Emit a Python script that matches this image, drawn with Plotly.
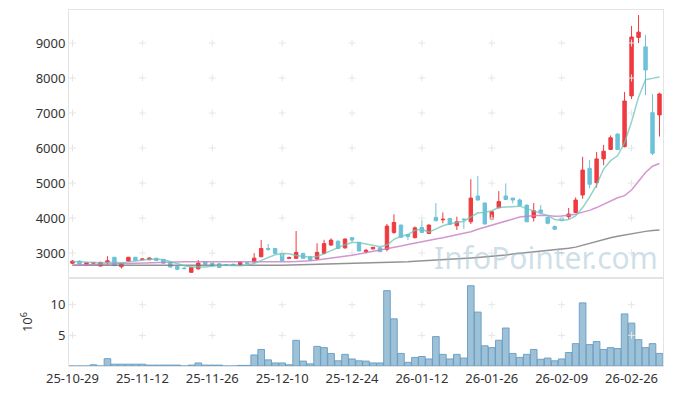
import plotly.graph_objects as go
from plotly.subplots import make_subplots

dates = [
    "25-10-29", "25-10-30", "25-10-31",
    "25-11-03", "25-11-04", "25-11-05", "25-11-06", "25-11-07", "25-11-10", "25-11-11", "25-11-12",
    "25-11-13", "25-11-14", "25-11-17", "25-11-18", "25-11-19", "25-11-20", "25-11-21", "25-11-24",
    "25-11-25", "25-11-26", "25-11-27", "25-11-28",
    "25-12-01", "25-12-02", "25-12-03", "25-12-04", "25-12-05", "25-12-08", "25-12-09", "25-12-10",
    "25-12-11", "25-12-12", "25-12-15", "25-12-16", "25-12-17", "25-12-18", "25-12-19", "25-12-22",
    "25-12-23", "25-12-24", "25-12-26", "25-12-29", "25-12-30",
    "26-01-02", "26-01-05", "26-01-06", "26-01-07", "26-01-08", "26-01-09", "26-01-12", "26-01-13",
    "26-01-14", "26-01-15", "26-01-16", "26-01-19", "26-01-20", "26-01-21", "26-01-22", "26-01-23",
    "26-01-26", "26-01-27", "26-01-28", "26-01-29", "26-01-30",
    "26-02-02", "26-02-03", "26-02-04", "26-02-05", "26-02-06", "26-02-09", "26-02-10", "26-02-11",
    "26-02-12", "26-02-13", "26-02-19", "26-02-20", "26-02-23", "26-02-24", "26-02-25", "26-02-26",
    "26-02-27", "26-03-03", "26-03-04", "26-03-05",
]

open_ = [2710, 2770, 2680, 2710, 2630, 2735, 2880, 2610, 2770, 2880, 2810, 2810, 2850, 2820, 2730,
         2620, 2570, 2450, 2550, 2750, 2715, 2695, 2670, 2680, 2660, 2720, 2745, 2895, 3130, 3130,
         2990, 2850, 2850, 2990, 2895, 2830, 2990, 3230, 3340, 3150, 3440, 3305, 3040, 3120, 3150,
         3105, 3590, 3800, 3530, 3440, 3730, 3560, 4020, 3950, 3990, 3780, 3970, 3895, 4630, 4430,
         3970, 4295, 4630, 4570, 4515, 4370, 4010, 4230, 4020, 3760, 4000, 4040, 4160, 4660, 5420,
         5010, 5690, 5960, 6400, 6040, 7490, 9160, 8890, 7010, 6945]
high = [2800, 2790, 2730, 2750, 2750, 2910, 2880, 2720, 2890, 2890, 2850, 2870, 2870, 2830, 2740,
        2630, 2600, 2600, 2800, 2760, 2720, 2700, 2680, 2700, 2770, 2750, 3000, 3370, 3260, 3140,
        3000, 2900, 3630, 3010, 2910, 3280, 3380, 3420, 3360, 3420, 3460, 3310, 3120, 3180, 3160,
        3830, 4110, 3810, 3550, 3760, 3950, 3820, 4430, 4160, 4000, 4040, 3990, 5110, 5200, 4440,
        4200, 4770, 4990, 4580, 4560, 4380, 4430, 4370, 4040, 3790, 4040, 4290, 4590, 5750, 5660,
        5890, 6090, 6360, 6420, 7600, 9490, 9800, 9230, 7540, 7580]
low = [2680, 2680, 2640, 2700, 2620, 2660, 2640, 2560, 2760, 2780, 2800, 2800, 2780, 2700, 2590,
       2510, 2540, 2440, 2530, 2670, 2630, 2580, 2620, 2630, 2650, 2690, 2730, 2880, 3060, 2980,
       2770, 2830, 2830, 2840, 2790, 2810, 2960, 3200, 3120, 3120, 3290, 3050, 2990, 3100, 3030,
       3050, 3550, 3440, 3370, 3420, 3580, 3540, 3900, 3850, 3810, 3660, 3690, 3830, 4500, 3820,
       3950, 4280, 4520, 4420, 4340, 3880, 3900, 4140, 3820, 3660, 3900, 3970, 4140, 4550, 4850,
       4870, 5510, 5940, 5950, 6020, 7400, 9000, 7510, 5800, 6330]
close = [2770, 2690, 2720, 2730, 2735, 2780, 2640, 2710, 2880, 2790, 2830, 2860, 2790, 2710, 2600,
         2535, 2555, 2590, 2715, 2680, 2640, 2590, 2645, 2655, 2740, 2700, 2855, 3130, 3110, 2990,
         2780, 2870, 3020, 2850, 2800, 3020, 3270, 3370, 3130, 3400, 3370, 3060, 3080, 3160, 3040,
         3770, 3875, 3450, 3470, 3720, 3590, 3800, 3925, 3965, 3820, 3895, 3960, 4570, 4515, 3830,
         4180, 4470, 4530, 4515, 4360, 3895, 4210, 4150, 3850, 3680, 3935, 4115, 4515, 5370, 4965,
         5690, 5910, 6295, 5960, 7345, 9170, 9310, 8230, 5850, 7545]

ma5 = [2760, 2750, 2740, 2720, 2720, 2730, 2740, 2720, 2750, 2770, 2800, 2820, 2830, 2810, 2760,
       2690, 2640, 2600, 2590, 2600, 2620, 2650, 2650, 2640, 2640, 2660, 2700, 2790, 2880, 2950,
       2990, 2980, 2930, 2900, 2880, 2900, 2990, 3060, 3150, 3240, 3300, 3300, 3260, 3230, 3180,
       3230, 3390, 3480, 3530, 3650, 3680, 3600, 3700, 3780, 3840, 3880, 3910, 4030, 4150, 4160,
       4210, 4300, 4310, 4340, 4340, 4270, 4200, 4140, 4070, 3960, 3930, 3960, 4060, 4300, 4600,
       4950, 5400, 5640, 5780, 6150, 6750, 7450, 7950, 7990, 8030]
ma20 = [2650, 2660, 2665, 2670, 2680, 2690, 2695, 2700, 2705, 2712, 2720, 2730, 2740, 2750, 2752,
        2755, 2755, 2755, 2755, 2755, 2755, 2750, 2745, 2740, 2735, 2735, 2735, 2737, 2740, 2745,
        2750, 2755, 2760, 2765, 2780, 2800, 2825, 2850, 2870, 2900, 2935, 2975, 3010, 3057, 3090,
        3120, 3150, 3200, 3245, 3290, 3330, 3370, 3405, 3440, 3480, 3520, 3570, 3610, 3680, 3740,
        3800, 3860, 3930, 3990, 4030, 4050, 4070, 4080, 4070, 4050, 4060, 4090, 4110, 4170, 4220,
        4300, 4400, 4480, 4580, 4640, 4800, 5050, 5300, 5480, 5560, 5710][:85]
ma60 = [2650, 2650, 2648, 2646, 2645, 2644, 2643, 2642, 2641, 2640, 2640, 2640, 2640, 2640, 2640,
        2640, 2638, 2636, 2635, 2634, 2633, 2632, 2631, 2630, 2630, 2632, 2636, 2640, 2645, 2650,
        2655, 2660, 2665, 2670, 2675, 2680, 2685, 2690, 2695, 2700, 2705, 2708, 2710, 2712, 2715,
        2725, 2735, 2745, 2755, 2765, 2775, 2785, 2795, 2800, 2815, 2830, 2845, 2860, 2875, 2890,
        2900, 2920, 2945, 2970, 2990, 3010, 3030, 3050, 3065, 3080, 3100, 3135, 3170, 3225, 3280,
        3340, 3390, 3440, 3480, 3520, 3560, 3590, 3620, 3645, 3660]

volume_m = [0.0, 0.0, 0.0, 0.2, 0.0, 1.2, 0.3, 0.3, 0.3, 0.3, 0.3, 0.15, 0.15, 0.15, 0.15,
            0.15, 0.0, 0.15, 0.5, 0.15, 0.15, 0.15, 0.0, 0.0, 0.1, 0.1, 1.8, 2.7, 1.0, 0.5,
            0.5, 0.2, 4.2, 0.8, 0.35, 3.2, 3.0, 2.05, 0.85, 1.9, 1.15, 0.85, 0.8, 0.5, 0.5,
            12.3, 7.7, 2.05, 0.6, 1.4, 1.55, 1.15, 4.8, 1.9, 1.15, 1.9, 1.3, 13.1, 8.8, 3.3,
            3.0, 4.2, 6.2, 2.05, 1.4, 1.9, 2.7, 1.1, 1.3, 0.85, 1.15, 2.2, 3.65, 10.3, 3.5,
            4.0, 2.7, 3.0, 2.85, 8.5, 7.0, 4.3, 3.0, 3.65, 2.05]

x_tick_labels = ["25-10-29", "25-11-12", "25-11-26", "25-12-10", "25-12-24",
                 "26-01-12", "26-01-26", "26-02-09", "26-02-26"]
price_ticks = [3000, 4000, 5000, 6000, 7000, 8000, 9000]
volume_ticks = [5, 10]

RED = "#ef3a3f"
BLUE = "#6cc2d8"
GRID = "#e6e6e6"
FONT = "Noto Sans"

fig = make_subplots(rows=2, cols=1, shared_xaxes=True, vertical_spacing=0,
                    row_heights=[0.753, 0.247])

# grid crosses at tick intersections
gx, gy = [], []
for xv in x_tick_labels:
    for yv in price_ticks:
        gx.append(xv)
        gy.append(yv)
fig.add_trace(go.Scatter(x=gx, y=gy, mode="markers",
                         marker=dict(symbol="cross-thin", size=5,
                                     line=dict(color=GRID, width=1)),
                         hoverinfo="skip", showlegend=False), row=1, col=1)
vx, vy = [], []
for xv in x_tick_labels:
    for yv in volume_ticks:
        vx.append(xv)
        vy.append(yv)
fig.add_trace(go.Scatter(x=vx, y=vy, mode="markers",
                         marker=dict(symbol="cross-thin", size=5,
                                     line=dict(color=GRID, width=1)),
                         hoverinfo="skip", showlegend=False), row=2, col=1)

fig.add_annotation(text="InfoPointer.com", xref="paper", yref="paper",
                   x=0.995, y=0.306, xanchor="right", yanchor="middle",
                   showarrow=False,
                   font=dict(family="Noto Sans", size=30, color="rgba(160,192,210,0.5)"))

fig.add_trace(go.Scatter(x=dates, y=ma60, mode="lines",
                         line=dict(color="rgba(120,120,120,0.8)", width=1.5),
                         showlegend=False), row=1, col=1)
fig.add_trace(go.Scatter(x=dates, y=ma20, mode="lines",
                         line=dict(color="rgba(200,125,195,0.8)", width=1.5),
                         showlegend=False), row=1, col=1)
fig.add_trace(go.Scatter(x=dates, y=ma5, mode="lines",
                         line=dict(color="rgba(110,195,185,0.75)", width=1.5),
                         showlegend=False), row=1, col=1)

fig.add_trace(go.Candlestick(
    x=dates, open=open_, high=high, low=low, close=close,
    increasing=dict(line=dict(color=RED, width=1), fillcolor=RED),
    decreasing=dict(line=dict(color=BLUE, width=1), fillcolor=BLUE),
    whiskerwidth=0, showlegend=False), row=1, col=1)

fig.add_trace(go.Bar(x=dates, y=volume_m,
                     marker=dict(color="rgba(130,176,202,0.78)",
                                 line=dict(color="rgba(105,155,195,0.9)", width=1)),
                     showlegend=False), row=2, col=1)

axis_common = dict(showline=True, mirror=True, linecolor="#e4e4e4", linewidth=1,
                   showgrid=False, zeroline=False, ticks="", automargin=False,
                   tickfont=dict(family=FONT, size=13, color="#333333"))

fig.update_xaxes(type="category", categoryorder="array", categoryarray=dates,
                 range=[-0.5, 84.5], rangeslider=dict(visible=False), **axis_common)
fig.update_xaxes(showticklabels=False, row=1, col=1)
fig.update_xaxes(tickmode="array", tickvals=x_tick_labels, ticktext=x_tick_labels,
                 tickangle=0, row=2, col=1)

fig.update_yaxes(**axis_common)
fig.update_yaxes(range=[2286, 9943], tickmode="array", tickvals=price_ticks,
                 row=1, col=1)
fig.update_yaxes(range=[0, 14.35], tickmode="array", tickvals=volume_ticks,
                 title=dict(text="10<sup>6</sup>", font=dict(family=FONT, size=13, color="#333333"),
                            standoff=14),
                 row=2, col=1)

fig.update_layout(width=673, height=396,
                  margin=dict(l=69, r=10, t=10, b=30),
                  paper_bgcolor="white", plot_bgcolor="white",
                  bargap=0.05, boxgap=0.3, showlegend=False,
                  font=dict(family=FONT, size=13, color="#333333"))

fig.write_html("out.html", config={"displayModeBar": False},
               post_script="document.body.style.margin='0';document.body.style.padding='0';")
